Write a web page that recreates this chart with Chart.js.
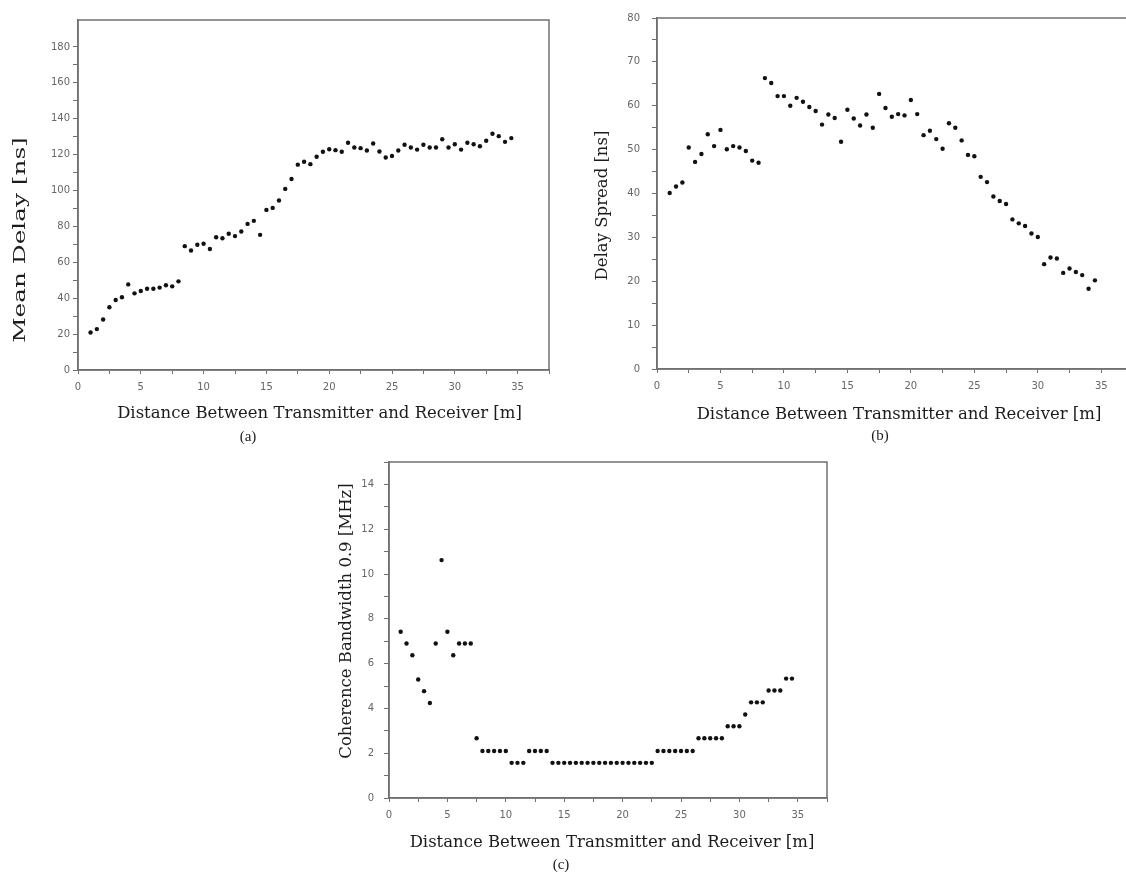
<!DOCTYPE html>
<html>
<head>
<meta charset="utf-8">
<script src="https://cdn.jsdelivr.net/npm/chart.js@4/dist/chart.umd.min.js"></script>
<style>
  html, body { margin: 0; padding: 0; background: #fff; overflow: hidden; }
  body { width: 1126px; height: 880px; position: relative; }
  canvas { position: absolute; }
  #chartA { left: 0; top: 0; }
  #chartB { left: 560px; top: 0; }
  #chartC { left: 300px; top: 440px; }
</style>
</head>
<body>
<canvas id="chartA" width="560" height="460"></canvas>
<canvas id="chartB" width="600" height="460"></canvas>
<canvas id="chartC" width="560" height="440"></canvas>
<script>
// distance between transmitter and receiver [m]
const distance = [1, 1.5, 2, 2.5, 3, 3.5, 4, 4.5, 5, 5.5, 6, 6.5, 7, 7.5, 8, 8.5, 9, 9.5, 10, 10.5,
  11, 11.5, 12, 12.5, 13, 13.5, 14, 14.5, 15, 15.5, 16, 16.5, 17, 17.5, 18, 18.5, 19, 19.5, 20, 20.5,
  21, 21.5, 22, 22.5, 23, 23.5, 24, 24.5, 25, 25.5, 26, 26.5, 27, 27.5, 28, 28.5, 29, 29.5, 30, 30.5,
  31, 31.5, 32, 32.5, 33, 33.5, 34, 34.5];

// (a) mean delay [ns]
const meanDelay = [20.9, 22.8, 28.1, 35.0, 39.0, 40.5, 47.7, 42.7, 44.0, 45.3,
  45.3, 45.9, 47.2, 46.6, 49.4, 69.0, 66.6, 69.8, 70.3, 67.4,
  74.0, 73.4, 75.9, 74.6, 77.2, 81.4, 83.1, 75.3, 89.2, 90.3,
  94.4, 100.9, 106.4, 114.4, 116.0, 114.7, 118.8, 121.6, 123.0, 122.5,
  121.6, 126.6, 124.0, 123.6, 122.3, 126.2, 121.7, 118.4, 119.2, 122.3,
  125.5, 124.0, 122.8, 125.5, 124.0, 124.0, 128.6, 124.0, 125.8, 122.8,
  126.6, 125.8, 124.7, 127.7, 131.6, 130.3, 127.1, 129.2];

// (b) delay spread [ns]
const delaySpread = [40.1, 41.6, 42.5, 50.5, 47.2, 49.0, 53.5, 50.8, 54.5, 50.1,
  50.8, 50.5, 49.7, 47.5, 47.0, 66.3, 65.2, 62.2, 62.2, 60.0,
  61.8, 60.9, 59.7, 58.8, 55.7, 58.0, 57.2, 51.8, 59.1, 57.1,
  55.5, 58.0, 55.0, 62.7, 59.5, 57.5, 58.1, 57.8, 61.3, 58.1,
  53.3, 54.3, 52.4, 50.2, 56.0, 55.0, 52.1, 48.8, 48.5, 43.8,
  42.6, 39.3, 38.3, 37.6, 34.1, 33.2, 32.6, 30.9, 30.1, 23.9,
  25.4, 25.2, 21.9, 22.9, 22.1, 21.4, 18.3, 20.2];

// (c) coherence bandwidth 0.9 [MHz]
const coherenceBw = [7.42, 6.9, 6.37, 5.29, 4.77, 4.24, 6.9, 10.62, 7.42, 6.37,
  6.9, 6.9, 6.9, 2.67, 2.1, 2.1, 2.1, 2.1, 2.1, 1.57,
  1.57, 1.57, 2.1, 2.1, 2.1, 2.1, 1.57, 1.57, 1.57, 1.57,
  1.57, 1.57, 1.57, 1.57, 1.57, 1.57, 1.57, 1.57, 1.57, 1.57,
  1.57, 1.57, 1.57, 1.57, 2.1, 2.1, 2.1, 2.1, 2.1, 2.1,
  2.1, 2.67, 2.67, 2.67, 2.67, 2.67, 3.2, 3.2, 3.2, 3.73,
  4.27, 4.27, 4.27, 4.8, 4.8, 4.8, 5.33, 5.33];

const xTitle = 'Distance Between Transmitter and Receiver [m]';
const axisGray = '#707070';

// box round the plot, axis titles and the panel letter
const framePlugin = {
  id: 'frame',
  afterDraw(chart, args, o) {
    const ctx = chart.ctx;
    const a = chart.chartArea;
    ctx.save();
    ctx.strokeStyle = axisGray;
    ctx.lineWidth = 1.5;
    ctx.strokeRect(a.left, a.top, a.right - a.left, a.bottom - a.top);

    ctx.fillStyle = '#1c1c1c';
    ctx.textAlign = 'center';
    ctx.textBaseline = 'middle';
    ctx.font = '16.5px "DejaVu Serif"';
    ctx.fillText(xTitle, (a.left + a.right) / 2 + o.xDx, a.bottom + o.xDy);

    ctx.save();
    ctx.translate(a.left - o.yDx, (a.top + a.bottom) / 2 + o.yDy);
    ctx.rotate(-Math.PI / 2);
    ctx.scale(o.yStretch, 1);
    ctx.fillText(o.yTitle, 0, 0);
    ctx.restore();

    ctx.font = '15px "Liberation Serif"';
    ctx.fillText(o.label, a.left + o.labelDx, a.bottom + 67);
    ctx.restore();
  }
};

function makeChart(id, values, cfg) {
  const points = distance.map((d, i) => ({ x: d, y: values[i] }));
  return new Chart(document.getElementById(id), {
    type: 'scatter',
    data: {
      datasets: [{
        data: points,
        pointRadius: 2.2,
        pointHoverRadius: 2.2,
        backgroundColor: '#111',
        borderWidth: 0
      }]
    },
    options: {
      responsive: false,
      animation: false,
      layout: { padding: cfg.padding },
      plugins: {
        legend: { display: false },
        tooltip: { enabled: false },
        frame: cfg.frame
      },
      scales: {
        x: {
          type: 'linear',
          min: 0,
          max: 37.5,
          afterFit: s => { s.height = cfg.xHeight; },
          border: { display: true, color: axisGray, width: 1.5 },
          grid: { drawOnChartArea: false, drawTicks: true, tickLength: 4, tickColor: axisGray },
          ticks: {
            stepSize: 2.5,
            autoSkip: false,
            maxRotation: 0,
            padding: 7,
            color: '#666',
            font: { family: 'DejaVu Sans', size: 10 },
            callback: v => (v % 5 === 0 ? v : '')
          }
        },
        y: {
          min: 0,
          max: cfg.yMax,
          afterFit: s => { s.width = cfg.yWidth; },
          afterBuildTicks: ax => { ax.ticks = ax.ticks.filter(t => Math.abs(t.value / cfg.yMinor - Math.round(t.value / cfg.yMinor)) < 1e-6); },
          border: { display: true, color: axisGray, width: 1.5 },
          grid: { drawOnChartArea: false, drawTicks: true, tickLength: 5, tickColor: axisGray },
          ticks: {
            stepSize: cfg.yMinor,
            autoSkip: false,
            padding: cfg.yPad,
            color: '#666',
            font: { family: 'DejaVu Sans', size: 10 },
            callback: v => (Math.abs(v % cfg.yMajor) < 1e-6 ? v : '')
          }
        }
      }
    },
    plugins: [framePlugin]
  });
}

makeChart('chartA', meanDelay, {
  padding: { left: 0, top: 20, right: 11, bottom: 0 },
  yWidth: 78, xHeight: 90, yMax: 195, yMinor: 10, yMajor: 20, yPad: 3,
  frame: { yTitle: 'Mean Delay [ns]', xDx: 6, xDy: 44, yDx: 57, yDy: 45, yStretch: 1.5, label: '(a)', labelDx: 170 }
});

makeChart('chartB', delaySpread, {
  padding: { left: 0, top: 15, right: 27, bottom: 0 },
  yWidth: 97, xHeight: 91, yMax: 80, yMinor: 5, yMajor: 10, yPad: 12,
  frame: { yTitle: 'Delay Spread [ns]', xDx: 4, xDy: 46, yDx: 54, yDy: 12, yStretch: 1, label: '(b)', labelDx: 223 }
});

makeChart('chartC', coherenceBw, {
  padding: { left: 0, top: 22, right: 33, bottom: 0 },
  yWidth: 89, xHeight: 82, yMax: 15, yMinor: 1, yMajor: 2, yPad: 10,
  frame: { yTitle: 'Coherence Bandwidth 0.9 [MHz]', xDx: 4, xDy: 45, yDx: 42, yDy: -9, yStretch: 1, label: '(c)', labelDx: 172 }
});
</script>
</body>
</html>
